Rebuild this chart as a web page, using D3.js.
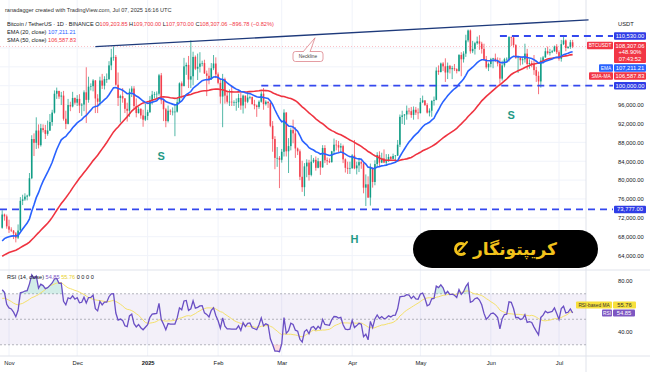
<!DOCTYPE html>
<html>
<head>
<meta charset="utf-8">
<script src="https://cdnjs.cloudflare.com/ajax/libs/d3/7.8.5/d3.min.js"></script>
<style>
  body { margin: 0; background: #fff; }
  svg { display: block; font-family: "Liberation Sans", Arial, sans-serif; }
</style>
</head>
<body>
<svg id="chart" width="650" height="372"></svg>
<script>
// closes before the visible window (Sep 8 - Oct 28 2024), only used to warm up EMA/SMA/RSI
var warmupCloses = [
  54800, 57000, 57600, 57300, 58100, 60500, 60000, 59100, 58200, 60300, 61700, 62900,
  63200, 63300, 63600, 63300, 64300, 63100, 65200, 65800, 65900, 65600, 63300,
  60800, 60600, 60700, 62100, 62100, 62800, 62200, 62100, 60600, 60300, 62400, 63200,
  62900, 66000, 67000, 67600, 67400, 68400, 68400, 69000, 67400, 67400, 66700, 68200,
  66600, 67000, 67900, 69900
];

// daily candles from Oct 29 2024 to Jul 7 2025 (open = previous close)
var firstDay = "2024-10-29";
var closes = [
  72700, 72300, 70200,
  // Nov
  69500, 69300, 68700, 67800, 69300, 75600, 75900, 76500, 76700, 80400, 88700, 87900, 90500, 87400, 91000,
  90600, 89800, 90500, 92300, 94300, 98300, 98900, 97700, 97900, 93000, 91900, 95900, 95600, 97400, 96400,
  // Dec
  97200, 95800, 96000, 98600, 97000, 99800, 99900, 101100, 97300, 96600, 101100, 100000, 101400, 101400, 104300,
  106000, 106100, 100200, 97400, 97800, 97300, 95100, 94700, 98700, 99400, 95700, 94200, 95100, 93700, 92800, 93600,
  // Jan
  94400, 96900, 98100, 98200, 98300, 102200, 96900, 95000, 92500, 94700, 94500, 94500, 94500, 96500, 100500,
  99900, 104100, 104400, 101300, 102000, 106100, 103600, 104000, 104700, 104800, 102600, 102100, 101300, 103700, 104700, 102400,
  // Feb
  100600, 97700, 101400, 97900, 96600, 96600, 96500, 96500, 96500, 97400, 95800, 97900, 96600, 97500,
  97600, 96100, 95800, 95500, 96600, 98300, 96100, 96600, 96300, 91500, 88700, 84700, 84700, 84300,
  // Mar
  86000, 94300, 86100, 87200, 90600, 89900, 86700, 86100, 80700, 78500, 82900, 83700, 81100, 83900, 84300,
  82600, 84000, 82700, 86800, 84200, 84000, 83800, 86100, 87500, 87400, 86900, 87200, 84400, 82600, 82400, 82500,
  // Apr
  85200, 82500, 83100, 83800, 83500, 78400, 79100, 76300, 82600, 79600, 83400, 85300, 83700, 84600, 83700,
  84000, 84900, 84500, 85100, 85200, 87500, 93400, 93700, 93900, 94700, 94600, 93800, 94900, 94300, 94200,
  // May
  96500, 96900, 95900, 94300, 94700, 96800, 97000, 103200, 102900, 104700, 104100, 102800, 104200, 103500, 103700,
  103500, 103100, 106500, 105600, 106800, 109600, 111700, 107300, 107800, 109000, 109400, 108900, 107800, 105600, 103900, 104600,
  // Jun
  105600, 105800, 105400, 104700, 101500, 104300, 105600, 105700, 110300, 110200, 108600, 105900, 106000, 105400, 105600,
  106800, 104600, 104800, 104600, 103300, 102100, 100900, 105300, 106000, 107300, 106900, 107100, 107300, 108300, 107100,
  // Jul
  105700, 108800, 109600, 108000, 108200, 109203.85, 108307.06
];
var highs = [
  73600, 72900, 72700,
  71600, 70000, 69400, 69000, 70600, 76400, 76900, 77200, 76900, 81500, 89500, 89900, 93300, 91800, 91900,
  91800, 91700, 92600, 94000, 94900, 99000, 99600, 98900, 98700, 98900, 94700, 97200, 96600, 98700, 97500,
  98000, 98200, 96300, 99000, 103900, 101900, 100500, 101400, 101200, 98200, 101900, 102500, 102000, 102600, 105200,
  107800, 108300, 106500, 102800, 98100, 99500, 97400, 96400, 99400, 99900, 99900, 97300, 95500, 95200, 94900, 96200,
  94900, 97800, 98900, 98700, 98800, 102500, 102700, 97300, 95300, 95800, 95000, 95400, 95900, 97400, 100700,
  100900, 105900, 104900, 106300, 109600, 107200, 106400, 106800, 107100, 105300, 105500, 103200, 103800, 104800, 106500, 106000,
  102800, 101500, 102500, 101700, 99000, 99200, 100100, 96900, 97300, 98300, 98500, 98100, 97900, 98800,
  97900, 97700, 97000, 96000, 96900, 98800, 99500, 96900, 96700, 96500, 92500, 89300, 87000, 85100,
  86600, 95000, 94400, 88900, 91000, 92800, 91200, 86900, 86500, 84100, 83600, 84400, 84300, 85300, 84700,
  85000, 84700, 84000, 87400, 87400, 84800, 84600, 86200, 88800, 88500, 88300, 87800, 87500, 84600, 83900, 83900,
  85500, 88500, 83900, 84700, 84200, 83800, 81200, 80800, 83500, 82700, 84200, 85900, 86100, 85800, 86500,
  85500, 85500, 85100, 85600, 85300, 88500, 93900, 94700, 94000, 95800, 95300, 95500, 95600, 95500, 95200,
  97400, 97900, 96900, 96300, 95200, 96900, 97700, 103900, 104300, 104900, 105000, 105800, 104900, 104400, 104200,
  104600, 103700, 106700, 107100, 107300, 110800, 111900, 111900, 109500, 109300, 110400, 110700, 109300, 108900, 106300, 104900,
  105900, 105900, 106800, 106000, 105900, 105300, 105900, 106000, 110500, 110400, 110400, 108800, 106200, 106200, 106000,
  108900, 107800, 105600, 105300, 106500, 104000, 103000, 106000, 106300, 108000, 108300, 107800, 107600, 108500, 108800,
  107500, 109700, 110500, 109800, 108400, 109700, 109700
];
var lows = [
  69700, 71400, 69700,
  68800, 69000, 67500, 66800, 67500, 69300, 74700, 75600, 75700, 76500, 80200, 85100, 86600, 86700, 87100,
  90100, 88700, 89400, 90400, 91500, 94100, 97200, 97200, 95900, 92600, 90800, 91800, 94600, 95400, 96000,
  95700, 94200, 93600, 94600, 92100, 96400, 99000, 98800, 94200, 94200, 95800, 99300, 99200, 100600, 101200,
  103300, 105300, 100000, 95700, 92200, 96400, 94200, 92400, 93400, 97600, 95100, 93300, 94100, 93000, 91300, 92500,
  92700, 94200, 96000, 97300, 97200, 97900, 96100, 92500, 91200, 92200, 93800, 93700, 89300, 94300, 96500,
  97300, 99900, 102300, 99500, 99500, 100100, 103300, 101200, 102800, 104100, 102500, 97800, 100300, 101300, 103300, 101600,
  100300, 96200, 91200, 96200, 96200, 95700, 95700, 95700, 94700, 95300, 94900, 94100, 95200, 96300,
  97100, 96000, 95000, 93400, 95100, 96400, 94900, 95800, 95300, 91200, 86000, 82300, 82800, 78300,
  83700, 85000, 85000, 81500, 86300, 87800, 84700, 85300, 80000, 77500, 76600, 80600, 79900, 80800, 83600,
  82000, 82500, 81100, 82600, 83600, 83200, 83600, 83700, 85500, 86300, 85900, 85800, 83600, 81600, 81300, 81300,
  82400, 82300, 81200, 81700, 82400, 77200, 74500, 76200, 74600, 78400, 78900, 82800, 82900, 83600, 83600,
  83100, 83900, 84300, 84400, 83900, 85100, 87000, 91900, 91700, 92800, 93900, 93200, 92800, 93800, 92900,
  94100, 96300, 95700, 94100, 93500, 93400, 95800, 96900, 102300, 102800, 103100, 100800, 101400, 102600, 101400,
  103100, 102600, 103000, 102000, 104900, 106100, 109200, 106800, 106900, 106600, 108700, 107600, 106800, 105300, 103600, 103100,
  103900, 103700, 105000, 104100, 100400, 101100, 103900, 104900, 105100, 108400, 108100, 105700, 102700, 104300, 104500,
  104900, 103400, 103600, 103900, 102300, 100800, 98200, 99600, 104700, 105900, 106600, 106400, 106900, 107200, 106700,
  105300, 105100, 108600, 107300, 107800, 107800, 107970
];

var monthTicks = ["2024-11-01", "2024-12-01", "2025-01-01", "2025-02-01", "2025-03-01",
                  "2025-04-01", "2025-05-01", "2025-06-01", "2025-07-01"];
var monthLabels = ["Nov", "Dec", "2025", "Feb", "Mar", "Apr", "May", "Jun", "Jul"];
var priceTicks = [64000, 68000, 72000, 76000, 80000, 84000, 88000, 92000, 96000];
var gridPrices = [64000, 68000, 72000, 76000, 80000, 84000, 88000, 92000, 96000, 100000, 104000, 108000];
var rsiTicks = [40, 80];

// support / resistance levels drawn by the author
var levels = [110530, 100000, 73777];
var levelFrom = ["2025-06-05", "2025-02-20", "2024-10-20"];
var neckline = [["2024-12-09", 108280], ["2025-07-14", 113950]];
var patternMarks = [["S", "2025-01-07", 85000], ["H", "2025-04-02", 67450], ["S", "2025-06-10", 93780]];

var parse = d3.utcParse("%Y-%m-%d");
var fmt2 = d3.format(",.2f");

var svg = d3.select("#chart");
var plotRight = 586, mainBottom = 270, rsiBottom = 356;

var upColor = "#089981", downColor = "#f23645";
var lineBlue = "#3448ee";

var x = d3.scaleUtc().domain([parse("2024-11-01"), parse("2025-07-01")]).range([9, 559]);
var y = d3.scaleLinear().domain([64000, 100000]).range([255.6, 85.7]);
var yR = d3.scaleLinear().domain([40, 80]).range([332, 281]);

// candles
var start = parse(firstDay);
var candles = closes.map(function(c, i) {
  return {
    date: d3.utcDay.offset(start, i),
    open: i ? closes[i - 1] : warmupCloses[warmupCloses.length - 1],
    high: highs[i],
    low: lows[i],
    close: c
  };
});

// indicators
var all = warmupCloses.concat(closes);
var off = warmupCloses.length;
var ema20 = [];
all.forEach(function(c, i) { ema20.push(i === 0 ? c : c * 2 / 21 + ema20[i - 1] * 19 / 21); });
var sma50 = all.map(function(c, i) { return i < 49 ? null : d3.mean(all.slice(i - 49, i + 1)); });
var rsi = all.map(function() { return null; });
var ag = 0, al = 0;
for (var i = 1; i < all.length; i++) {
  var ch = all[i] - all[i - 1], g = Math.max(ch, 0), l = Math.max(-ch, 0);
  if (i <= 14) {
    ag += g / 14; al += l / 14;
    if (i === 14) rsi[i] = 100 - 100 / (1 + ag / al);
  } else {
    ag = (ag * 13 + g) / 14; al = (al * 13 + l) / 14;
    rsi[i] = 100 - 100 / (1 + ag / al);
  }
}
var rsiMa = rsi.map(function(r, i) { return i < 27 ? null : d3.mean(rsi.slice(i - 13, i + 1)); });

var ind = candles.map(function(d, i) {
  return { date: d.date, ema: ema20[i + off], sma: sma50[i + off], rsi: rsi[i + off], ma: rsiMa[i + off] };
});

var defs = svg.append("defs");
defs.append("clipPath").attr("id", "clipMain").append("rect")
  .attr("x", 0).attr("y", 0).attr("width", plotRight).attr("height", mainBottom);
defs.append("clipPath").attr("id", "clipRsi").append("rect")
  .attr("x", 0).attr("y", mainBottom).attr("width", plotRight).attr("height", rsiBottom - mainBottom);

// grid
var grid = svg.append("g");
grid.selectAll(".vg").data(monthTicks).enter().append("line")
  .attr("x1", function(d) { return x(parse(d)); }).attr("x2", function(d) { return x(parse(d)); })
  .attr("y1", 0).attr("y2", rsiBottom).attr("stroke", "#f0f3fa").attr("stroke-width", 1);
grid.selectAll(".hg").data(gridPrices).enter().append("line")
  .attr("x1", 0).attr("x2", plotRight).attr("y1", function(d) { return y(d); }).attr("y2", function(d) { return y(d); })
  .attr("stroke", "#f0f3fa").attr("stroke-width", 1);

// pane separators
svg.append("line").attr("x1", 0).attr("x2", 650).attr("y1", mainBottom).attr("y2", mainBottom).attr("stroke", "#e0e3eb");
svg.append("line").attr("x1", 0).attr("x2", 650).attr("y1", rsiBottom).attr("y2", rsiBottom).attr("stroke", "#e0e3eb");
svg.append("line").attr("x1", plotRight).attr("x2", plotRight).attr("y1", 0).attr("y2", 372).attr("stroke", "#e0e3eb");

// ---- main pane ----
var main = svg.append("g").attr("clip-path", "url(#clipMain)");

// last price line
main.append("line").attr("x1", 0).attr("x2", plotRight)
  .attr("y1", y(closes[closes.length - 1])).attr("y2", y(closes[closes.length - 1]))
  .attr("stroke", downColor).attr("stroke-opacity", 0.3).attr("stroke-dasharray", "1,2");

var cg = main.append("g");
cg.selectAll(".wick").data(candles).enter().append("line")
  .attr("x1", function(d) { return x(d.date); }).attr("x2", function(d) { return x(d.date); })
  .attr("y1", function(d) { return y(d.high); }).attr("y2", function(d) { return y(d.low); })
  .attr("stroke", function(d) { return d.close >= d.open ? upColor : downColor; })
  .attr("stroke-width", 0.7);
cg.selectAll(".body").data(candles).enter().append("rect")
  .attr("x", function(d) { return x(d.date) - 0.8; })
  .attr("width", 1.6)
  .attr("y", function(d) { return y(Math.max(d.open, d.close)); })
  .attr("height", function(d) { return Math.max(0.6, Math.abs(y(d.open) - y(d.close))); })
  .attr("fill", function(d) { return d.close >= d.open ? upColor : downColor; })
  .attr("fill-opacity", 0.9);

main.append("path").datum(ind)
  .attr("d", d3.line().x(function(d) { return x(d.date); }).y(function(d) { return y(d.sma); }))
  .attr("fill", "none").attr("stroke", "#ef3340").attr("stroke-width", 1.6);
main.append("path").datum(ind)
  .attr("d", d3.line().x(function(d) { return x(d.date); }).y(function(d) { return y(d.ema); }))
  .attr("fill", "none").attr("stroke", "#2962ff").attr("stroke-width", 1.6);

// horizontal levels
levels.forEach(function(v, i) {
  svg.append("line").attr("x1", Math.max(0, x(parse(levelFrom[i])))).attr("x2", 613)
    .attr("y1", y(v)).attr("y2", y(v))
    .attr("stroke", lineBlue).attr("stroke-width", 1.8).attr("stroke-dasharray", "7,5");
});

// neckline
svg.append("line")
  .attr("x1", x(parse(neckline[0][0]))).attr("y1", y(neckline[0][1]))
  .attr("x2", x(parse(neckline[1][0]))).attr("y2", y(neckline[1][1]))
  .attr("stroke", "#1e3a7b").attr("stroke-width", 1.3);

// neckline callout
var nl = svg.append("g");
nl.append("rect").attr("x", 293).attr("y", 51.5).attr("width", 30).attr("height", 10).attr("rx", 2.5)
  .attr("fill", "#fff").attr("stroke", "#d9737b").attr("stroke-width", 0.7);
nl.append("path").attr("d", "M303,51.9 L315,37.8 L310,51.9")
  .attr("fill", "#fff").attr("stroke", "#d9737b").attr("stroke-width", 0.7);
nl.append("text").attr("x", 308).attr("y", 58.3).attr("text-anchor", "middle")
  .attr("font-size", 4.8).attr("fill", "#444").text("Neckline");

// pattern letters
svg.selectAll(".pm").data(patternMarks).enter().append("text")
  .attr("x", function(d) { return x(parse(d[1])); })
  .attr("y", function(d) { return y(d[2]); })
  .attr("dy", "0.35em").attr("text-anchor", "middle")
  .attr("font-size", 11).attr("font-weight", "bold").attr("fill", "#1f9a86")
  .text(function(d) { return d[0]; });

// ---- RSI pane ----
var rp = svg.append("g").attr("clip-path", "url(#clipRsi)");
rp.append("rect").attr("x", 0).attr("y", yR(70)).attr("width", plotRight).attr("height", yR(30) - yR(70))
  .attr("fill", "#7e57c2").attr("fill-opacity", 0.09);
[70, 50, 30].forEach(function(v) {
  rp.append("line").attr("x1", 0).attr("x2", plotRight).attr("y1", yR(v)).attr("y2", yR(v))
    .attr("stroke", "#9598a1").attr("stroke-width", 0.7).attr("stroke-dasharray", "2,2");
});
rp.append("path").datum(ind)
  .attr("d", d3.area().x(function(d) { return x(d.date); })
    .y0(yR(70)).y1(function(d) { return yR(Math.max(70, d.rsi)); }))
  .attr("fill", "#089981").attr("fill-opacity", 0.18);
rp.append("path").datum(ind)
  .attr("d", d3.area().x(function(d) { return x(d.date); })
    .y0(yR(30)).y1(function(d) { return yR(Math.min(30, d.rsi)); }))
  .attr("fill", "#f23645").attr("fill-opacity", 0.18);
rp.append("path").datum(ind)
  .attr("d", d3.line().x(function(d) { return x(d.date); }).y(function(d) { return yR(d.ma); }))
  .attr("fill", "none").attr("stroke", "#f5e16a").attr("stroke-width", 1);
rp.append("path").datum(ind)
  .attr("d", d3.line().x(function(d) { return x(d.date); }).y(function(d) { return yR(d.rsi); }))
  .attr("fill", "none").attr("stroke", "#6a4fc4").attr("stroke-width", 1.3);

// ---- axes ----
var tickFont = 5.8;
var xa = svg.append("g").attr("transform", "translate(0," + 361 + ")")
  .call(d3.axisBottom(x).tickValues(monthTicks.map(parse)).tickSize(0).tickPadding(0)
    .tickFormat(function(d, i) { return monthLabels[i]; }));
xa.select(".domain").remove();
xa.selectAll("text").attr("font-size", tickFont).attr("fill", "#131722").attr("font-family", "Liberation Sans, Arial")
  .attr("font-weight", function(d, i) { return monthLabels[i] === "2025" ? "bold" : "normal"; });

var ya = svg.append("g").attr("transform", "translate(618,0)")
  .call(d3.axisRight(y).tickValues(priceTicks).tickSize(0).tickPadding(0).tickFormat(fmt2));
ya.select(".domain").remove();
ya.selectAll("text").attr("font-size", tickFont).attr("fill", "#131722").attr("font-family", "Liberation Sans, Arial");

var ra = svg.append("g").attr("transform", "translate(618,0)")
  .call(d3.axisRight(yR).tickValues(rsiTicks).tickSize(0).tickPadding(0).tickFormat(d3.format(".2f")));
ra.select(".domain").remove();
ra.selectAll("text").attr("font-size", tickFont).attr("fill", "#131722").attr("font-family", "Liberation Sans, Arial");

svg.append("text").attr("x", 618).attr("y", 26).attr("font-size", tickFont).attr("fill", "#131722").text("USDT");

// axis label boxes
function tag(xp, yc, w, h, fill, lines, color, fs) {
  var g = svg.append("g");
  g.append("rect").attr("x", xp).attr("y", yc - h / 2).attr("width", w).attr("height", h).attr("rx", 1).attr("fill", fill);
  lines.forEach(function(t, k) {
    g.append("text").attr("x", xp + w / 2).attr("y", yc - h / 2 + 5.6 + k * 6.6)
      .attr("text-anchor", "middle").attr("font-size", fs || tickFont).attr("fill", color || "#fff").text(t);
  });
}
levels.forEach(function(v) { tag(614, y(v), 32, 7.5, "#2f3de6", [fmt2(v)]); });
tag(587, 45.5, 26, 7.5, downColor, ["BTCUSDT"], "#fff", 4.8);
tag(614, 52.5, 32, 21, downColor, [fmt2(closes[closes.length - 1]), "+48.90%", "07:43:52"]);
tag(599, 68, 14, 7.5, "#2962ff", ["EMA"], "#fff", 4.8);
tag(614, 68, 32, 7.5, "#2962ff", ["107,211.21"]);
tag(589, 76, 24, 7.5, downColor, ["SMA-MA"], "#fff", 4.8);
tag(614, 76, 32, 7.5, downColor, ["106,587.83"]);
tag(576, 305, 36, 7, "#f7e03c", ["RSI-based MA"], "#333", 4.8);
tag(613, 305, 23, 7, "#f7e03c", ["55.76"], "#333");
tag(602, 313, 10, 7, "#7e57c2", ["RSI"], "#fff", 4.8);
tag(613, 313, 22, 7, "#7e57c2", ["54.85"], "#fff");

// ---- watermark logo ----
var logo = svg.append("g");
logo.append("rect").attr("x", 413).attr("y", 230).attr("width", 185).attr("height", 38).attr("rx", 19).attr("fill", "#000");
logo.append("path").attr("transform", "translate(461,249)")
  .attr("d", d3.arc().innerRadius(4).outerRadius(7).startAngle(2.3).endAngle(7.1)())
  .attr("fill", "#f2c21b");
logo.append("line").attr("x1", 459).attr("y1", 251).attr("x2", 467).attr("y2", 242)
  .attr("stroke", "#f2c21b").attr("stroke-width", 2).attr("stroke-linecap", "round");
logo.append("text").attr("x", 515).attr("y", 255).attr("text-anchor", "middle")
  .attr("font-family", "DejaVu Sans").attr("font-weight", "bold").attr("font-size", 17)
  .attr("fill", "#f2c21b").attr("direction", "rtl").text("کریپتونگار");

// ---- legends ----
svg.append("text").attr("x", 5).attr("y", 12).attr("font-size", 5.6).attr("fill", "#333")
  .text("ranadagger created with TradingView.com, Jul 07, 2025 16:16 UTC");

var l1 = svg.append("text").attr("x", 7).attr("y", 26).attr("font-size", 5.6).attr("fill", "#131722");
l1.append("tspan").text("Bitcoin / TetherUS · 1D · BINANCE  ");
[["O", "109,203.85"], ["H", "109,700.00"], ["L", "107,970.00"], ["C", "108,307.06"]].forEach(function(p) {
  l1.append("tspan").attr("fill", "#131722").text(p[0]);
  l1.append("tspan").attr("fill", downColor).text(p[1] + "  ");
});
l1.append("tspan").attr("fill", downColor).text("−896.78 (−0.82%)");

var l2 = svg.append("text").attr("x", 7).attr("y", 34).attr("font-size", 5.6).attr("fill", "#131722");
l2.append("tspan").text("EMA (20, close)  ");
l2.append("tspan").attr("fill", "#2962ff").text("107,211.21");
var l3 = svg.append("text").attr("x", 7).attr("y", 41.5).attr("font-size", 5.6).attr("fill", "#131722");
l3.append("tspan").text("SMA (50, close)  ");
l3.append("tspan").attr("fill", downColor).text("106,587.83");

var l4 = svg.append("text").attr("x", 7).attr("y", 279).attr("font-size", 5.6).attr("fill", "#131722");
l4.append("tspan").text("RSI (14, close)  ");
l4.append("tspan").attr("fill", "#7e57c2").text("54.85  ");
l4.append("tspan").attr("fill", "#e8cf2a").text("55.76  ");
l4.append("tspan").text("0  0  0  0");
</script>
</body>
</html>
